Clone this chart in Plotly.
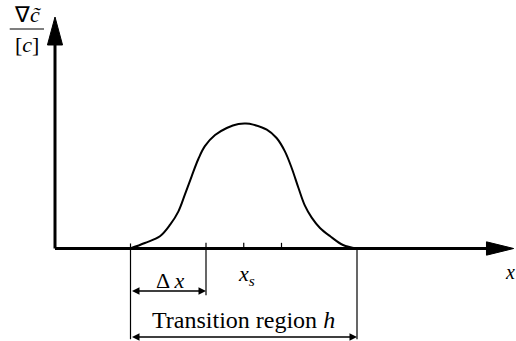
import plotly.graph_objects as go

# gradient profile across the transition region (x in units of tick spacing, y normalised to peak)
x_curve = [1.99, 2.38, 2.78, 3.05, 3.27, 3.44, 3.62, 3.80, 3.97, 4.24, 4.55, 4.86,
           5.06, 5.25, 5.61, 5.87, 6.09, 6.27, 6.45, 6.62, 6.80, 7.02, 7.29, 7.63, 7.99]
y_curve = [0.0, 0.044, 0.097, 0.189, 0.295, 0.427, 0.573, 0.712, 0.812, 0.900, 0.956, 0.988,
           0.992, 0.983, 0.943, 0.877, 0.771, 0.639, 0.480, 0.340, 0.245, 0.163, 0.097, 0.028, 0.0]

tick_x = [2, 4, 5, 6, 8]
region = (2, 8)      # transition region h
dx_span = (2, 4)     # Delta x
x_s = 5
x_end = 12.15        # tip of the x-axis arrow

FONT = "Liberation Serif"
BLACK = "black"

fig = go.Figure()

fig.add_trace(
    go.Scatter(
        x=x_curve,
        y=y_curve,
        mode="lines",
        line=dict(color=BLACK, width=2, shape="spline", smoothing=1.0, simplify=False),
        hoverinfo="skip",
        showlegend=False,
    )
)

shapes = []
# axes
shapes.append(dict(type="line", x0=0, y0=0, x1=0, y1=1.62, line=dict(color=BLACK, width=3)))
shapes.append(dict(type="line", x0=0, y0=0, x1=x_end - 0.7, y1=0, line=dict(color=BLACK, width=3)))
# arrow heads of the axes
shapes.append(dict(type="path", path="M -0.2,1.615 L 0.2,1.615 L 0,1.837 Z",
                   fillcolor=BLACK, line=dict(color=BLACK, width=1)))
shapes.append(dict(type="path",
                   path=f"M {x_end - 0.72},-0.053 L {x_end - 0.72},0.053 L {x_end},0 Z",
                   fillcolor=BLACK, line=dict(color=BLACK, width=1)))
# small ticks on the x axis
for t in tick_x[1:4]:
    shapes.append(dict(type="line", x0=t, y0=0, x1=t, y1=0.045, line=dict(color=BLACK, width=1.2)))
# extension lines for the dimension arrows
shapes.append(dict(type="line", x0=region[0], y0=0.04, x1=region[0], y1=-0.72, line=dict(color=BLACK, width=1.2)))
shapes.append(dict(type="line", x0=region[1], y0=0, x1=region[1], y1=-0.72, line=dict(color=BLACK, width=1.2)))
shapes.append(dict(type="line", x0=dx_span[1], y0=0, x1=dx_span[1], y1=-0.37, line=dict(color=BLACK, width=1.2)))
# fraction bar of the y label
shapes.append(dict(type="line", x0=-1.2, y0=1.742, x1=-0.29, y1=1.742, line=dict(color=BLACK, width=1.2)))

annotations = []
# dimension arrows
for (a, b), yy in [(dx_span, -0.337), (region, -0.702)]:
    annotations.append(dict(x=b, y=yy, ax=a, ay=yy, xref="x", yref="y", axref="x", ayref="y",
                            text="", showarrow=True, arrowhead=2, startarrowhead=2,
                            arrowside="end+start", arrowsize=1, arrowwidth=1.5, arrowcolor=BLACK,
                            font=dict(size=10)))

annotations += [
    dict(x=3.05, y=-0.25, text="Δ <i>x</i>", font=dict(size=22)),
    dict(x=5.07, y=-0.21, text="<i>x<sub>s</sub></i>", font=dict(size=22)),
    dict(x=5.0, y=-0.57, text="Transition region <i>h</i>", font=dict(size=24)),
    dict(x=12.05, y=-0.19, text="<i>x</i>", font=dict(size=20)),
    dict(x=-0.74, y=1.86, text="∇<i>c̃</i>", font=dict(size=22)),
    dict(x=-0.74, y=1.62, text="[<i>c</i>]", font=dict(size=22)),
]
for ann in annotations:
    ann.setdefault("xref", "x")
    ann.setdefault("yref", "y")
    ann.setdefault("showarrow", False)
    ann["font"] = dict(family=FONT, color=BLACK, size=ann["font"]["size"])

fig.update_layout(
    width=516,
    height=341,
    margin=dict(l=0, r=0, t=0, b=0),
    paper_bgcolor="white",
    plot_bgcolor="white",
    shapes=shapes,
    annotations=annotations,
    xaxis=dict(range=[-1.457, 12.212], visible=False, fixedrange=True),
    yaxis=dict(range=[-0.734, 1.972], visible=False, fixedrange=True),
    showlegend=False,
)

fig.write_html("out.html", config={"displayModeBar": False},
               post_script="document.body.style.margin='0';")
